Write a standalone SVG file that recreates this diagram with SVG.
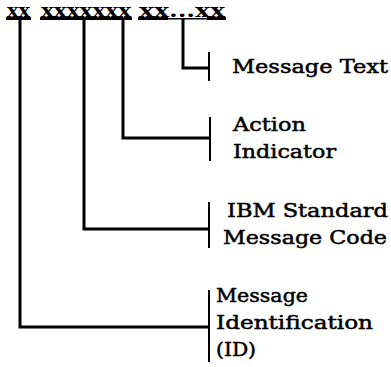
<svg xmlns="http://www.w3.org/2000/svg" width="391" height="367" viewBox="0 0 391 367">
<style>
.lbl{font-family:"DejaVu Serif","Liberation Serif",serif;font-size:19px;font-weight:normal;fill:#000;stroke:#000;stroke-width:0.5}
.code{font-family:"DejaVu Serif","Liberation Serif",serif;font-size:19px;font-weight:bold;fill:#000}
.v{stroke:#000;stroke-width:3;fill:none}
.h{stroke:#000;stroke-width:2;fill:none}
.tick{stroke:#000;stroke-width:2;fill:none}
.ul{fill:#000}
</style>
<rect width="391" height="367" fill="#fff"/>
<g id="format">
<text class="code" x="7" y="17" textLength="23" lengthAdjust="spacingAndGlyphs">xx</text>
<text class="code" x="41" y="17" textLength="90" lengthAdjust="spacingAndGlyphs">xxxxxxx</text>
<text class="code" x="139" y="17" textLength="86" lengthAdjust="spacingAndGlyphs">xx...xx</text>
<rect class="ul" x="6" y="17" width="25" height="3"/>
<rect class="ul" x="40" y="17" width="92" height="3"/>
<rect class="ul" x="138" y="17" width="30" height="3"/>
<rect class="ul" x="168" y="18" width="40" height="1.5"/>
<rect class="ul" x="207" y="17" width="19" height="3"/>
</g>
<g id="connectors">
<polyline class="v" points="183,19 183,68 208,68"/>
<line class="tick" x1="209" y1="52" x2="209" y2="81"/>
<polyline class="v" points="123,19 123,138 210,138"/>
<line class="tick" x1="210" y1="117" x2="210" y2="161"/>
<polyline class="v" points="84,19 84,229 208,229"/>
<line class="tick" x1="209" y1="202" x2="209" y2="248"/>
<polyline class="v" points="20,19 20,327 208,327"/>
<line class="tick" x1="209" y1="290" x2="209" y2="362"/>
</g>
<g id="message-text">
<text class="lbl" x="232" y="73" textLength="156" lengthAdjust="spacingAndGlyphs">Message Text</text>
</g>
<g id="action-indicator">
<text class="lbl" x="233" y="131" textLength="73" lengthAdjust="spacingAndGlyphs">Action</text>
<text class="lbl" x="233" y="158" textLength="103" lengthAdjust="spacingAndGlyphs">Indicator</text>
</g>
<g id="ibm-standard-code">
<text class="lbl" x="227" y="217" textLength="161" lengthAdjust="spacingAndGlyphs">IBM Standard</text>
<text class="lbl" x="223" y="244" textLength="164" lengthAdjust="spacingAndGlyphs">Message Code</text>
</g>
<g id="message-id">
<text class="lbl" x="216" y="302" textLength="92" lengthAdjust="spacingAndGlyphs">Message</text>
<text class="lbl" x="216" y="329" textLength="157" lengthAdjust="spacingAndGlyphs">Identification</text>
<text class="lbl" x="216" y="356" textLength="40" lengthAdjust="spacingAndGlyphs">(ID)</text>
</g>
</svg>
